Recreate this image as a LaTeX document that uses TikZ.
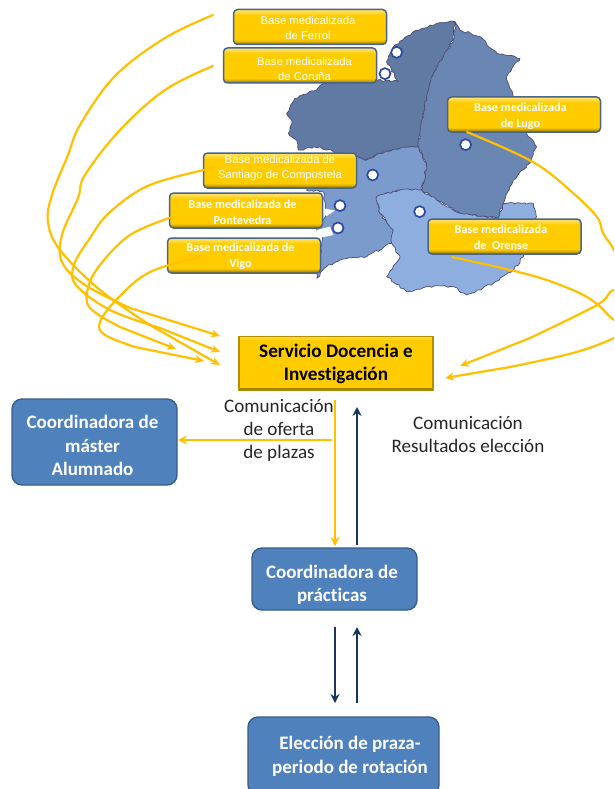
\documentclass[tikz,border=0pt]{standalone}
\usepackage{fontspec}
\setmainfont[Ligatures=NoCommon]{Carlito}
\newfontfamily\arialf{Liberation Sans}
\usetikzlibrary{decorations.pathmorphing,arrows.meta}
\definecolor{gold}{HTML}{FFC000}
\definecolor{boxy}{HTML}{FFCC00}
\definecolor{navy}{HTML}{17375E}
\definecolor{bluefill}{HTML}{4F81BD}
\definecolor{blueedge}{HTML}{385D8A}
\pgfdeclareverticalshading{bevy}{100bp}{
 color(0bp)=(boxy!55!black); color(25bp)=(boxy!55!black); color(30bp)=(boxy!90!black); color(32bp)=(boxy); color(67bp)=(boxy); color(71bp)=(boxy!75!white); color(75bp)=(boxy!55!white); color(100bp)=(boxy!55!white)}
\pgfdeclareverticalshading{bevs}{100bp}{
 color(0bp)=(boxy!65!black); color(25bp)=(boxy!65!black); color(28bp)=(boxy!65!black); color(28.1bp)=(boxy); color(71.9bp)=(boxy); color(72bp)=(boxy!85!white); color(75bp)=(boxy!85!white); color(100bp)=(boxy!85!white)}
\tikzset{
 base/.style={shading=bevy,draw=blueedge!75!gray,line width=1.5pt,rounded corners=4pt,minimum width=153pt,minimum height=35pt,inner sep=0pt},
 thin label/.style={inner sep=0pt,text=white,align=center,font=\arialf\fontsize{11.3}{15}\selectfont},
 bold label/.style={inner sep=0pt,text=white,align=center,font=\bfseries\fontsize{12.2}{15.6}\selectfont},
 serv/.style={shading=bevs,draw=boxy!70!black,line width=1.5pt,minimum width=194pt,minimum height=54pt,inner sep=0pt,align=center,font=\bfseries\fontsize{19.2}{23}\selectfont,text=black},
 bluebox/.style={fill=bluefill,draw=blueedge,line width=1.4pt,rounded corners=10pt,inner sep=0pt},
 bluetext/.style={inner sep=0pt,align=center,text=white,font=\bfseries\fontsize{19}{23.5}\selectfont},
 plain/.style={inner sep=0pt,align=center,text=black!85,font=\fontsize{19.1}{23.3}\selectfont},
 town/.style={circle,fill=white,draw=blueedge!80!blue,line width=1.7pt,minimum size=11pt,inner sep=0pt},
 ycurve/.style={draw=gold,line width=2.2pt,line cap=round,-{Stealth[length=9pt,width=8pt]}},
 narrow/.style={draw=navy,line width=2.4pt,-{Stealth[length=9pt,width=9pt]}},
 yarrowb/.style={draw=gold,line width=2.3pt,-{Stealth[length=9pt,width=9pt]}},
 land/.style={draw=black!60!blue!40!gray,line width=.7pt,line join=round,decorate,decoration={random steps,segment length=3pt,amplitude=1.2pt}}
}
\begin{document}
\begin{tikzpicture}[x=1pt,y=-1pt]
\useasboundingbox (0,0) rectangle (614,789);
\clip (0,0) rectangle (614,789);
\fill[white] (0,0) rectangle (614,789);
% map
\begin{scope}[shift={(160,0)},x=.3333pt,y=-.3333pt]
\path[land,fill={rgb,255:red,96;green,122;blue,163}] (885,65)--(880,120)--(850,170)--(820,220)--(800,290)--(790,340)--(775,440)--(720,445)--(660,460)--(620,480)--(590,470)--(500,450)--(480,440)--(415,450)--(410,420)--(385,400)--(395,360)--(380,340)--(405,295)--(470,270)--(490,250)--(640,240)--(715,245)--(680,185)--(700,140)--(760,95)--(830,70)--cycle;
\path[land,fill={rgb,255:red,106;green,134;blue,178}] (885,65)--(880,120)--(850,170)--(820,220)--(800,290)--(790,340)--(775,440)--(800,500)--(785,570)--(830,600)--(900,640)--(1015,655)--(1030,610)--(1060,540)--(1110,490)--(1130,440)--(1100,400)--(1060,290)--(1040,230)--(1080,175)--(1010,160)--(960,110)--(900,90)--cycle;
\path[land,fill={rgb,255:red,124;green,155;blue,205}] (590,470)--(620,480)--(660,460)--(720,445)--(775,440)--(800,500)--(785,570)--(720,570)--(650,590)--(660,640)--(700,690)--(695,730)--(620,770)--(540,780)--(500,800)--(470,835)--(490,700)--(470,690)--(500,640)--(490,575)--(440,570)--(500,520)--cycle;
\path[land,fill={rgb,255:red,143;green,174;blue,224}] (650,590)--(720,570)--(785,570)--(830,600)--(900,640)--(1015,655)--(1030,610)--(1120,610)--(1130,650)--(1090,770)--(1060,810)--(1000,850)--(920,885)--(880,860)--(800,860)--(740,875)--(680,830)--(720,770)--(695,730)--(700,690)--(660,640)--cycle;
\fill[white] (490,625)--(525,632)--(500,648)--(488,640)--cycle;
\fill[white] (470,690)--(510,680)--(520,705)--(488,712)--cycle;
\node[town] (t1) at (710,157) {};
\node[town] (t2) at (675,221) {};
\node[town] (t3) at (917,434) {};
\node[town] (t4) at (638,525) {};
\node[town] (t5) at (540,617) {};
\node[town] (t6) at (534,684) {};
\node[town] (t7) at (779,635) {};
\end{scope}
% label boxes
\node[base] (ferrol) at (310,27) {};
\node[base] (coruna) at (300,65.5) {};
\node[base] (lugo) at (524,114.5) {};
\node[base] (sant) at (280,170.5) {};
\node[base] (pont) at (246,210.5) {};
\node[base] (vigo) at (244,255.5) {};
\node[base] (orense) at (504.5,236.5) {};
% label texts
\node[thin label] (ferrol-t) at (308,27.5) {Base medicalizada\\de Ferrol};
\node[thin label] (coruna-t) at (304.5,68.5) {Base medicalizada\\de Coruña};
\node[bold label] (lugo-t) at (520.5,116.5) {Base medicalizada\\de Lugo};
\node[thin label] (sant-t) at (280,168.5) {Base medicalizada de\\Santiago de Compostela};
\node[bold label] (pont-t) at (242.5,212) {Base medicalizada de\\Pontevedra};
\node[bold label] (vigo-t) at (240.5,256.5) {Base medicalizada de\\Vigo};
\node[bold label] (orense-t) at (501,237.5) {Base medicalizada\\de\ \ Orense};
% main boxes
\node[serv] (srv) at (336,363.5) {Servicio Docencia e\\Investigación};
\node[bluebox,minimum width=165pt,minimum height=86pt] (mast) at (94.5,442) {};
\node[bluebox,minimum width=165pt,minimum height=62pt] (coord) at (334.5,579) {};
\node[bluebox,minimum width=191pt,minimum height=78pt] (elec) at (343.5,756) {};
\node[bluetext] (mast-t) at (92.5,445.5) {Coordinadora de\\máster\\Alumnado};
\node[bluetext] (coord-t) at (332,585) {Coordinadora de\\prácticas};
\node[bluetext] (elec-t) at (350,756.5) {Elección de praza-\\periodo de rotación};
% text
\node[plain] (t-of) at (279,430.5) {Comunicación\\de oferta\\de plazas};
\node[plain] (t-res) at (468,434.5) {Comunicación\\Resultados elección};
% free ends
\coordinate (f0) at (213,15);
\coordinate (c0) at (213,66);
\coordinate (s0) at (213,168);
\coordinate (p0) at (172,217);
\coordinate (v0) at (200,257);
\coordinate (l0) at (467,132);
\coordinate (o0) at (452,257);
\coordinate (e1) at (220,336);
\coordinate (e2) at (220,352);
\coordinate (e3) at (220,365);
\coordinate (e4) at (176,349);
\coordinate (e5) at (204,361);
\coordinate (e6) at (460,366);
\coordinate (e7) at (445,378);
\coordinate (a1) at (335,400);
\coordinate (a2) at (335,546);
\coordinate (a3) at (332,440);
\coordinate (a4) at (178,440);
\coordinate (a5) at (357,545);
\coordinate (a6) at (357,407);
\coordinate (a7) at (335,627);
\coordinate (a8) at (335,703);
\coordinate (a9) at (357,703);
\coordinate (a10) at (357,627);
% curves
\draw[ycurve] plot[smooth,tension=.6] coordinates {(f0) (165,38) (115,76) (80,125) (68,155) (52,195) (48,222) (60,250) (100,290) (150,325)} -- (e3);
\draw[ycurve] plot[smooth,tension=.6] coordinates {(c0) (165,90) (120,130) (85,175) (78,198) (62,235) (62,262) (85,285) (130,308)} -- (e1);
\draw[ycurve] plot[smooth,tension=.6] coordinates {(s0) (150,185) (110,212) (90,238) (74,265) (76,285) (110,310) (160,328)} -- (e2);
\draw[ycurve] plot[smooth,tension=.6] coordinates {(p0) (130,235) (100,265) (88,288) (90,308) (120,327)} -- (e4);
\draw[ycurve] plot[smooth,tension=.6] coordinates {(v0) (150,272) (118,298) (100,322) (105,335) (135,347)} -- (e5);
\draw[ycurve] plot[smooth,tension=.6] coordinates {(l0) (533,162) (573,193) (597,217) (603,233) (614,250) (632,285) (632,325) (614,338) (573,353) (510,367)} -- (e7);
\draw[ycurve] plot[smooth,tension=.6] coordinates {(o0) (530,275) (575,291) (597,304) (614,320) (640,335) (645,290) (614,290) (597,305) (530,338)} -- (e6);
% straight arrows
\draw[yarrowb] (a1) -- (a2);
\draw[yarrowb] (a3) -- (a4);
\draw[narrow] (a5) -- (a6);
\draw[narrow] (a7) -- (a8);
\draw[narrow] (a9) -- (a10);
\end{tikzpicture}
\end{document}
